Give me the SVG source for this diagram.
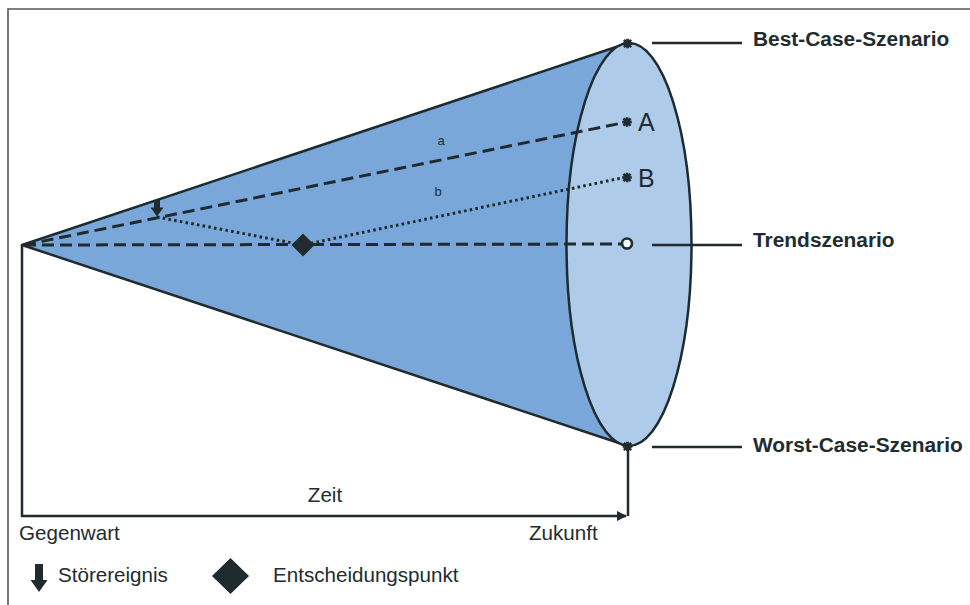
<svg xmlns="http://www.w3.org/2000/svg" width="970" height="605" viewBox="0 0 970 605">
  <style>
    .ink { stroke: #1f2b2f; fill: none; stroke-width: 2.5; }
    .dash { stroke: #1f2b2f; fill: none; stroke-width: 3; stroke-dasharray: 12 6; }
    .dot { stroke: #1f2b2f; fill: none; stroke-width: 3; stroke-dasharray: 2.6 3.2; }
    .lbl { font-family: "Liberation Sans", Arial, sans-serif; font-size: 20.6px; fill: #222c30; }
    .bold { font-weight: bold; font-size: 20.9px; }
    .solid { fill: #1f2b2f; }
  </style>
  <defs>
    <marker id="axisHead" viewBox="0 0 10 10" refX="9" refY="5" markerWidth="4" markerHeight="4" orient="auto" markerUnits="strokeWidth">
      <path d="M0,0 L10,5 L0,10 Z" fill="#1f2b2f"/>
    </marker>
    <g id="star">
      <path d="M-3.6,-3.6 L3.6,3.6 M3.6,-3.6 L-3.6,3.6 M0,-4.8 V4.8 M-4.8,0 H4.8" stroke="#1f2b2f" stroke-width="2.6" fill="none"/>
    </g>
  </defs>

  <!-- frame -->
  <path d="M8,605 V9 H970" fill="none" stroke="#555" stroke-width="1.6"/>

  <!-- cone body -->
  <g id="cone">
    <polygon points="22,245 628,43 628,446" fill="#79a7d9" stroke="#1f2b2f" stroke-width="2.5" stroke-linejoin="round"/>
    <ellipse cx="629" cy="244.5" rx="62.5" ry="201.5" fill="#aecbea" stroke="#1f2b2f" stroke-width="2.5"/>
  </g>

  <!-- connectors -->
  <g id="connectors">
    <line class="dash" x1="24" y1="245" x2="624" y2="122.6"/>
    <line class="dash" x1="24" y1="245" x2="621" y2="244"/>
    <polyline class="dot" points="157,217 303,245 624,177.5"/>
    <!-- time axis -->
    <path class="ink" d="M22,245 V516 H626" marker-end="url(#axisHead)"/>
    <path class="ink" d="M628,447 V516"/>
    <!-- label leaders -->
    <line class="ink" x1="652" y1="43" x2="742" y2="43"/>
    <line class="ink" x1="652" y1="245" x2="742" y2="245"/>
    <line class="ink" x1="652" y1="447" x2="742" y2="447"/>
  </g>

  <!-- scenario end points -->
  <g id="best-case">
    <use href="#star" x="627.5" y="43.5"/>
    <text class="lbl bold" x="753" y="46">Best-Case-Szenario</text>
  </g>
  <g id="scenario-a">
    <use href="#star" x="627" y="122"/>
    <text class="lbl" x="638" y="131" style="font-size:25px">A</text>
  </g>
  <g id="scenario-b">
    <use href="#star" x="627" y="177.5"/>
    <text class="lbl" x="638" y="187" style="font-size:25px">B</text>
  </g>
  <g id="trend">
    <circle cx="627" cy="243.5" r="5" fill="#fff" stroke="#1f2b2f" stroke-width="2.6"/>
    <text class="lbl bold" x="753" y="247">Trendszenario</text>
  </g>
  <g id="worst-case">
    <use href="#star" x="627.5" y="446.5"/>
    <text class="lbl bold" x="753" y="452">Worst-Case-Szenario</text>
  </g>

  <!-- disturbance event and decision point -->
  <g id="disturbance">
    <path class="solid" d="M154,200 H160 V207.5 H163.5 L157,216.5 L150.5,207.5 H154 Z"/>
  </g>
  <g id="decision">
    <path class="solid" d="M303,233.5 L314.5,245 L303,256.5 L291.5,245 Z"/>
  </g>

  <!-- path labels -->
  <g id="path-labels">
    <text class="lbl" x="441" y="145" text-anchor="middle" style="font-size:13px">a</text>
    <text class="lbl" x="438" y="196" text-anchor="middle" style="font-size:13px">b</text>
  </g>

  <!-- axis labels -->
  <g id="axis-labels">
    <text class="lbl" x="325" y="502" text-anchor="middle">Zeit</text>
    <text class="lbl" x="19" y="540">Gegenwart</text>
    <text class="lbl" x="529" y="540">Zukunft</text>
  </g>

  <!-- legend -->
  <g id="legend-disturbance">
    <path class="solid" d="M35,564 H43 V580 H47.5 L39,592 L30.5,580 H35 Z"/>
    <text class="lbl" x="58" y="582">Störereignis</text>
  </g>
  <g id="legend-decision">
    <path class="solid" d="M230.5,558 L249,576 L230.5,594 L212,576 Z"/>
    <text class="lbl" x="273" y="582">Entscheidungspunkt</text>
  </g>
</svg>
